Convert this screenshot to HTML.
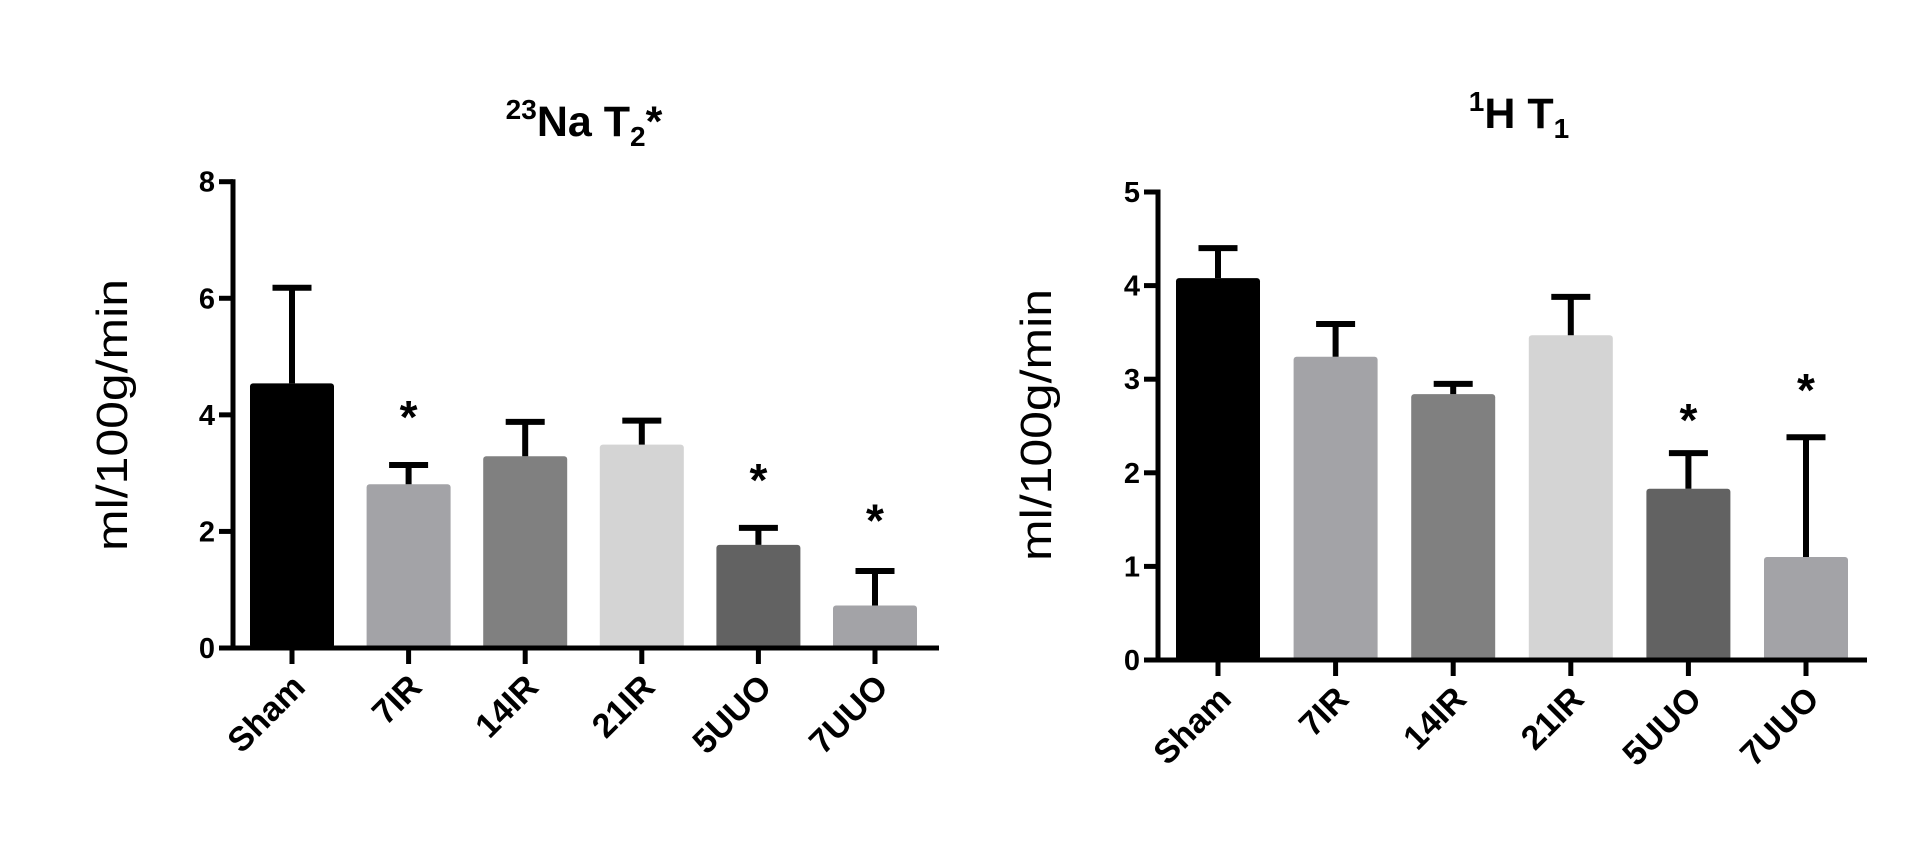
<!DOCTYPE html>
<html><head><meta charset="utf-8"><style>
html,body{margin:0;padding:0;background:#fff;}
svg{display:block;}
text{font-family:"Liberation Sans",sans-serif;}
</style></head><body>
<svg id="fig" width="1926" height="855" viewBox="0 0 1926 855">
<rect x="0" y="0" width="1926" height="855" fill="#fff"/>
<g id="left"></g>
<g id="right"></g>
</svg>
<script>
const categories = ["Sham","7IR","14IR","21IR","5UUO","7UUO"];
const colors = ["#000000","#a3a3a7","#808080","#d4d4d4","#626262","#a3a3a7"];
// left chart: 23Na T2*
const naValues = [4.54, 2.81, 3.29, 3.49, 1.77, 0.73];
const naErrTop = [6.18, 3.14, 3.88, 3.90, 2.06, 1.32];
const naStars = [null, 4.15, null, null, 3.07, 2.38];
const naTicks = [0, 2, 4, 6, 8];
// right chart: 1H T1
const hValues = [4.08, 3.24, 2.84, 3.47, 1.83, 1.10];
const hErrTop = [4.40, 3.59, 2.95, 3.88, 2.21, 2.38];
const hStars = [null, null, null, null, 2.68, 3.0];
const hTicks = [0, 1, 2, 3, 4, 5];

const NS = "http://www.w3.org/2000/svg";
function mk(parent, tag, attrs, text) {
  const e = document.createElementNS(NS, tag);
  for (const k in attrs) e.setAttribute(k, attrs[k]);
  if (text !== undefined) e.textContent = text;
  parent.appendChild(e);
  return e;
}

function drawChart(g, cfg) {
  const yScale = v => cfg.y0 - (v - cfg.yMin) / (cfg.yMax - cfg.yMin) * (cfg.y0 - cfg.yTop);
  const xScale = i => cfg.xFirst + i * cfg.step;
  cfg.values.forEach((v, i) => {
    const cx = xScale(i);
    const r = mk(g, "rect", {x: cx - 42, y: yScale(v), width: 84, height: cfg.y0 - yScale(v), fill: colors[i], rx: 3});
    
    
    const eb = mk(g, "path", {d: `M${cx} ${yScale(v)} V${yScale(cfg.err[i])} M${cx-19.5} ${yScale(cfg.err[i])} H${cx+19.5}`, stroke: "#000", "stroke-width": 6, fill: "none"});
    
    
    if (cfg.stars[i] !== null) {
      const s = mk(g, "text", {x: cx, y: yScale(cfg.stars[i]) + 27, "text-anchor": "middle", "font-size": 46, "font-weight": "bold"}, "*");
      
      
    }
    const tk = mk(g, "line", {x1: cx, x2: cx, y1: cfg.y0, y2: cfg.y0 + 16, stroke: "#000", "stroke-width": 5});
    
    
    const lx = cx + 15, ly = cfg.y0 + 41;
    const lb = mk(g, "text", {x: lx, y: ly, "text-anchor": "end", "font-size": 34, "font-weight": "bold", transform: `rotate(-45 ${lx} ${ly})`}, categories[i]);
    
    
  });
  const ya = mk(g, "line", {x1: cfg.xAxis, x2: cfg.xAxis, y1: cfg.yTop - 2.5, y2: cfg.y0 + 2.5, stroke: "#000", "stroke-width": 5});
  
  
  const xa = mk(g, "line", {x1: cfg.xAxis - 14, x2: cfg.xEnd, y1: cfg.y0, y2: cfg.y0, stroke: "#000", "stroke-width": 5});
  
  
  cfg.ticks.forEach(t => {
    const y = yScale(t);
    const tl = mk(g, "line", {x1: cfg.xAxis - 14, x2: cfg.xAxis, y1: y, y2: y, stroke: "#000", "stroke-width": 5});
    
    
    const tt = mk(g, "text", {x: cfg.xAxis - 18, y: y + 10, "text-anchor": "end", "font-size": 29, "font-weight": "bold"}, String(t));
    
    
  });
  const yl = mk(g, "text", {x: cfg.labX, y: cfg.labY, "text-anchor": "middle", "font-size": 44, textLength: 272, lengthAdjust: "spacingAndGlyphs", transform: `rotate(-90 ${cfg.labX} ${cfg.labY})`}, "ml/100g/min");
  
  
}

const L = document.getElementById("left");
drawChart(L, {values: naValues, err: naErrTop, stars: naStars, ticks: naTicks, yMin: 0, yMax: 8,
  y0: 648, yTop: 181.7, xFirst: 292, step: 116.6, xAxis: 233, xEnd: 939, labX: 127, labY: 415});
const R = document.getElementById("right");
drawChart(R, {values: hValues, err: hErrTop, stars: hStars, ticks: hTicks, yMin: 0, yMax: 5,
  y0: 660, yTop: 192, xFirst: 1218, step: 117.6, xAxis: 1158, xEnd: 1867, labX: 1051, labY: 425});
</script>
<svg style="position:absolute;left:0;top:0" width="1926" height="855">
<text x="584" y="136" text-anchor="middle" font-size="43" font-weight="bold" font-family="Liberation Sans, sans-serif"><tspan font-size="28" dy="-17">23</tspan><tspan dy="17">Na T</tspan><tspan font-size="28" dy="10">2</tspan><tspan dy="-10">*</tspan></text>
<text x="1519" y="128" text-anchor="middle" font-size="43" font-weight="bold" font-family="Liberation Sans, sans-serif"><tspan font-size="28" dy="-17">1</tspan><tspan dy="17">H T</tspan><tspan font-size="28" dy="10">1</tspan></text>
</svg>
</body></html>
